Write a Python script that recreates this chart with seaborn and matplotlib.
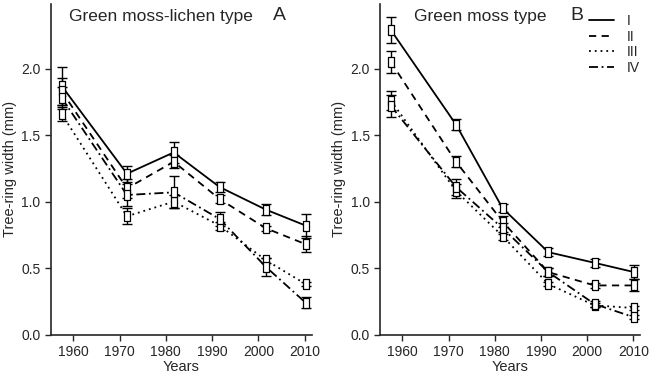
import numpy as np
import pandas as pd
import matplotlib
matplotlib.use('Agg')
from matplotlib import pyplot as plt
import seaborn as sns

years = [1957.5, 1971.6, 1981.7, 1991.6, 2001.6, 2010.2]
tick_years = [1960, 1970, 1980, 1990, 2000, 2010]
series = ['I', 'II', 'III', 'IV']

# panel A: green moss-lichen type
a_vals = {
    'I':   [1.87, 1.21, 1.37, 1.11, 0.94, 0.82],
    'II':  [1.83, 1.10, 1.30, 1.02, 0.80, 0.68],
    'III': [1.66, 0.89, 1.00, 0.82, 0.56, 0.38],
    'IV':  [1.78, 1.05, 1.07, 0.87, 0.51, 0.24],
}
a_err = {
    'I':   [0.14, 0.06, 0.08, 0.04, 0.04, 0.09],
    'II':  [0.10, 0.07, 0.05, 0.03, 0.02, 0.06],
    'III': [0.05, 0.06, 0.05, 0.03, 0.02, 0.015],
    'IV':  [0.08, 0.08, 0.12, 0.05, 0.07, 0.04],
}
# panel B: green moss type
b_vals = {
    'I':   [2.29, 1.58, 0.95, 0.62, 0.54, 0.47],
    'II':  [2.05, 1.30, 0.85, 0.47, 0.37, 0.37],
    'III': [1.76, 1.08, 0.74, 0.38, 0.22, 0.20],
    'IV':  [1.72, 1.11, 0.80, 0.47, 0.23, 0.13],
}
b_err = {
    'I':   [0.10, 0.04, 0.03, 0.03, 0.03, 0.05],
    'II':  [0.08, 0.04, 0.04, 0.03, 0.02, 0.045],
    'III': [0.07, 0.05, 0.03, 0.015, 0.015, 0.015],
    'IV':  [0.08, 0.06, 0.04, 0.03, 0.02, 0.015],
}

sns.set_style('ticks')
plt.rcParams['font.family'] = ['Liberation Sans', 'DejaVu Sans']

dash_styles = ['', (4, 3), (1, 2.2), (5, 2, 1, 2)]
box_marker = [(-0.55, -1), (0.55, -1), (0.55, 1), (-0.55, 1), (-0.55, -1)]

fig = plt.figure(figsize=(6.5, 3.76), dpi=100)
ax_a = fig.add_axes([0.0785, 0.110, 0.401, 0.879])
ax_b = fig.add_axes([0.585, 0.110, 0.400, 0.879])


def draw_panel(ax, vals, errs, title, letter, title_x, letter_x):
    df = pd.DataFrame({
        'year': years * len(series),
        'width': sum([vals[s] for s in series], []),
        'type': sum([[s] * len(years) for s in series], []),
    })
    sns.lineplot(data=df, x='year', y='width', style='type', style_order=series,
                 dashes=dash_styles, color='black', linewidth=1.3, ax=ax,
                 legend=(ax is ax_b))
    for s in series:
        ax.errorbar(years, vals[s], yerr=errs[s], fmt='none', ecolor='black',
                    elinewidth=1.0, capsize=3.5, capthick=1.0, zorder=3)
        ax.plot(years, vals[s], linestyle='none', marker=box_marker,
                markersize=7, markerfacecolor='white', markeredgecolor='black',
                markeredgewidth=0.9, zorder=4)
    ax.set_xlim(1955.2, 2011.5)
    ax.set_ylim(0, 2.485)
    ax.set_xticks(tick_years)
    ax.set_yticks([0.0, 0.5, 1.0, 1.5, 2.0])
    ax.set_yticklabels(['0.0', '0.5', '1.0', '1.5', '2.0'])
    ax.tick_params(labelsize=10, length=4, width=1)
    ax.set_xlabel('Years', fontsize=10.5, labelpad=1)
    ax.set_ylabel('Tree-ring width (mm)', fontsize=10.5, labelpad=3)
    sns.despine(ax=ax)
    for sp in ['left', 'bottom']:
        ax.spines[sp].set_linewidth(1.2)
    ax.text(title_x, 0.985, title, transform=ax.transAxes, fontsize=12.5,
            ha='center', va='top')
    ax.text(letter_x, 0.99, letter, transform=ax.transAxes, fontsize=14,
            ha='center', va='top')


draw_panel(ax_a, a_vals, a_err, 'Green moss-lichen type', 'A', 0.42, 0.875)
draw_panel(ax_b, b_vals, b_err, 'Green moss type', 'B', 0.385, 0.755)

leg = ax_b.legend(loc='upper right', bbox_to_anchor=(1.035, 1.0), frameon=False,
                  handlelength=1.8, handletextpad=0.9, labelspacing=0.12,
                  fontsize=10, borderaxespad=0.3)
for line in leg.get_lines():
    line.set_color('black')

fig.savefig('out.png', dpi=100)
